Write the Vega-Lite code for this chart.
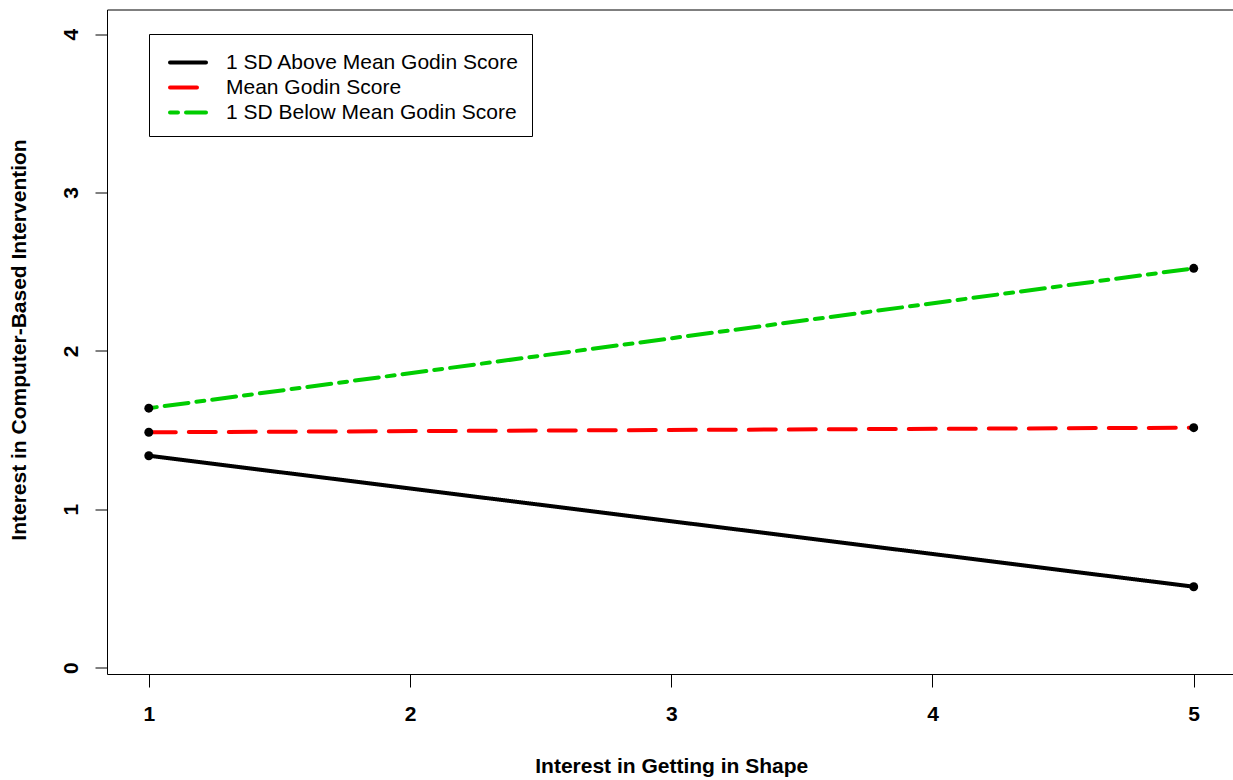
{
  "$schema": "https://vega.github.io/schema/vega-lite/v6.json",
  "width": 1128.5,
  "height": 664.5,
  "autosize": {"type": "none"},
  "padding": {"left": 107, "top": 9.5, "right": 0, "bottom": 106},
  "background": "white",
  "config": {
    "view": {"stroke": "black", "strokeWidth": 1},
    "font": "Liberation Sans"
  },
  "data": {
    "values": [
      {"group": "1 SD Above Mean Godin Score", "shape": 1, "interest": 1.338},
      {"group": "1 SD Above Mean Godin Score", "shape": 5, "interest": 0.511},
      {"group": "Mean Godin Score", "shape": 1, "interest": 1.486},
      {"group": "Mean Godin Score", "shape": 5, "interest": 1.515},
      {"group": "1 SD Below Mean Godin Score", "shape": 1, "interest": 1.638},
      {"group": "1 SD Below Mean Godin Score", "shape": 5, "interest": 2.521}
    ]
  },
  "encoding": {
    "x": {
      "field": "shape",
      "type": "quantitative",
      "scale": {"domain": [0.84, 5.16], "nice": false, "zero": false},
      "axis": {
        "title": "Interest in Getting in Shape",
        "values": [1, 2, 3, 4, 5],
        "format": "d",
        "domain": false,
        "grid": false,
        "tickSize": 13,
        "tickColor": "black",
        "tickWidth": 1,
        "labelFontSize": 21,
        "labelFontWeight": "bold",
        "labelColor": "black",
        "labelBaseline": "alphabetic",
        "labelPadding": 33,
        "labelFlush": false,
        "labelOverlap": false,
        "titleFontSize": 21,
        "titleFontWeight": "bold",
        "titleColor": "black",
        "titleBaseline": "alphabetic",
        "titleY": 98.7
      }
    },
    "y": {
      "field": "interest",
      "type": "quantitative",
      "scale": {"domain": [-0.04, 4.155], "nice": false, "zero": false},
      "axis": {
        "title": "Interest in Computer-Based Intervention",
        "values": [0, 1, 2, 3, 4],
        "format": "d",
        "domain": false,
        "grid": false,
        "tickSize": 12,
        "tickColor": "black",
        "tickWidth": 1,
        "labelFontSize": 21,
        "labelFontWeight": "bold",
        "labelColor": "black",
        "labelAngle": 270,
        "labelAlign": "center",
        "labelBaseline": "alphabetic",
        "labelPadding": 18,
        "labelFlush": false,
        "labelOverlap": false,
        "titleFontSize": 21,
        "titleFontWeight": "bold",
        "titleColor": "black",
        "titleAngle": 270,
        "titleAlign": "center",
        "titleBaseline": "alphabetic",
        "titleX": -82,
        "titleY": 330
      }
    }
  },
  "layer": [
    {
      "mark": {"type": "line", "strokeWidth": 4, "strokeCap": "round"},
      "encoding": {
        "color": {
          "field": "group",
          "type": "nominal",
          "scale": {
            "domain": ["1 SD Above Mean Godin Score", "Mean Godin Score", "1 SD Below Mean Godin Score"],
            "range": ["#000000", "#FF0000", "#00CD00"]
          },
          "legend": {
            "title": " ",
            "titleFontSize": 1,
            "titlePadding": 4,
            "orient": "none",
            "legendX": 42,
            "legendY": 24.5,
            "strokeColor": "black",
            "fillColor": "white",
            "padding": 13,
            "symbolOffset": 15.5,
            "symbolType": "M-4,0H4",
            "symbolSize": 81,
            "symbolStrokeWidth": 4,
            "labelFontSize": 21,
            "labelColor": "black",
            "labelOffset": 27.5,
            "labelLimit": 600,
            "rowPadding": 3,
            "encode": {"symbols": {"update": {"strokeCap": {"value": "round"}}}}
          }
        },
        "strokeDash": {
          "field": "group",
          "type": "nominal",
          "scale": {
            "domain": ["1 SD Above Mean Godin Score", "Mean Godin Score", "1 SD Below Mean Godin Score"],
            "range": [[1, 0], [27, 13], [8, 8, 24, 8]]
          },
          "legend": {
            "title": " ",
            "titleFontSize": 1,
            "titlePadding": 4,
            "orient": "none",
            "legendX": 42,
            "legendY": 24.5,
            "strokeColor": "black",
            "fillColor": "white",
            "padding": 13,
            "symbolOffset": 15.5,
            "symbolType": "M-4,0H4",
            "symbolSize": 81,
            "symbolStrokeWidth": 4,
            "labelFontSize": 21,
            "labelColor": "black",
            "labelOffset": 27.5,
            "labelLimit": 600,
            "rowPadding": 3,
            "encode": {"symbols": {"update": {"strokeCap": {"value": "round"}}}}
          }
        }
      }
    },
    {
      "mark": {"type": "circle", "size": 80, "opacity": 1, "color": "black"}
    }
  ]
}
